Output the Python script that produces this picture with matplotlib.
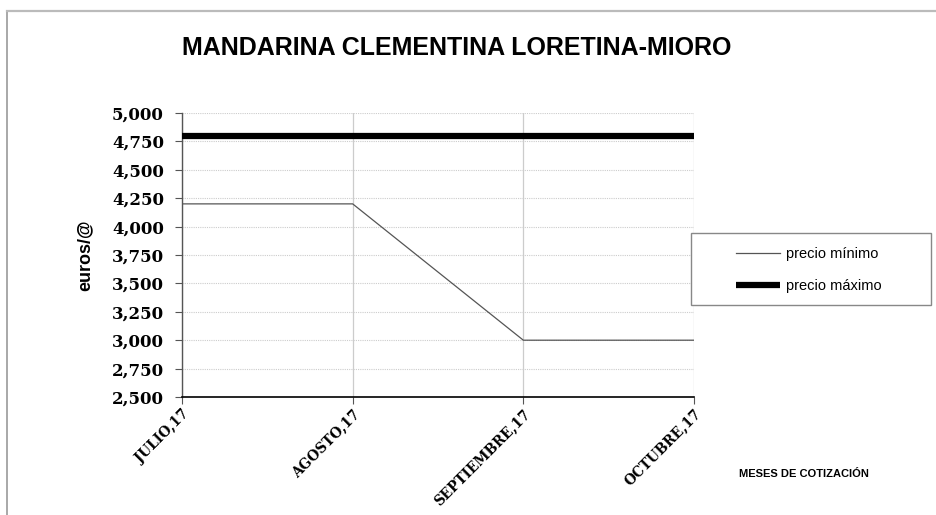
import matplotlib
matplotlib.use("Agg")
import matplotlib.pyplot as plt
from matplotlib.lines import Line2D
from matplotlib.patches import Rectangle
from matplotlib.ticker import FuncFormatter

categories = ["JULIO,17", "AGOSTO,17", "SEPTIEMBRE,17", "OCTUBRE,17"]
precio_minimo = [4.2, 4.2, 3.0, 3.0]
precio_maximo = [4.8, 4.8, 4.8, 4.8]
y_ticks = [2.5, 2.75, 3.0, 3.25, 3.5, 3.75, 4.0, 4.25, 4.5, 4.75, 5.0]

W, H = 936, 515
fig = plt.figure(figsize=(W / 100, H / 100), dpi=100)
fig.patch.set_facecolor("white")

# outer frame (top and left visible)
fig.add_artist(Line2D([7 / W, 7 / W], [0, 1 - 10.5 / H], color="#999999", lw=1.2, transform=fig.transFigure))
fig.add_artist(Line2D([7 / W, 1], [1 - 10.5 / H, 1 - 10.5 / H], color="#bbbbbb", lw=1.6, transform=fig.transFigure))

left, right, top, bottom = 182, 694, 113, 397
ax = fig.add_axes([left / W, 1 - bottom / H, (right - left) / W, (bottom - top) / H])

x = list(range(len(categories)))
ax.plot(x, precio_minimo, color="#555555", lw=0.9, label="precio mínimo", zorder=3)
ax.plot(x, precio_maximo, color="black", lw=4.5, label="precio máximo", zorder=3, solid_capstyle="butt")

ax.set_xlim(0, len(categories) - 1)
ax.set_ylim(2.5, 5.0)
ax.set_yticks(y_ticks)
ax.yaxis.set_major_formatter(FuncFormatter(lambda v, p: f"{v:.3f}".replace(".", ",")))
ax.set_xticks(x)
ax.set_xticklabels(categories, rotation=45, ha="right", va="top", rotation_mode="anchor",
                   fontfamily="DejaVu Serif", fontweight="bold", fontsize=9.8)
for lab in ax.get_yticklabels():
    lab.set_fontfamily("DejaVu Serif")
    lab.set_fontweight("bold")
    lab.set_fontsize(12)

ax.yaxis.grid(True, color="#cccccc", lw=0.8, linestyle=(0, (1, 1)))
ax.xaxis.grid(True, color="#cccccc", lw=0.9, linestyle="-")
ax.set_axisbelow(True)

for s in ["top", "right"]:
    ax.spines[s].set_visible(False)
ax.spines["left"].set_color("#555555")
ax.spines["left"].set_linewidth(1.0)
ax.spines["bottom"].set_color("black")
ax.spines["bottom"].set_linewidth(1.2)
ax.tick_params(axis="y", direction="out", length=5, color="#555555", pad=8)
ax.tick_params(axis="x", direction="out", length=5, color="#555555", pad=2)

ax.set_ylabel("euros/@", fontfamily="Liberation Sans", fontweight="bold", fontsize=13, labelpad=0)
ax.yaxis.set_label_coords((94 - left) / (right - left), 0.5)

fig.text(457 / W, 1 - 48 / H, "MANDARINA CLEMENTINA LORETINA-MIORO", ha="center", va="center",
         fontfamily="Liberation Sans", fontweight="bold", fontsize=18)
fig.text(804 / W, 1 - 474 / H, "MESES DE COTIZACIÓN", ha="center", va="center",
         fontfamily="Liberation Sans", fontweight="bold", fontsize=8)

# legend frame drawn explicitly, legend entries without frame
fig.add_artist(Rectangle((691 / W, 1 - 305 / H), (931 - 691) / W, (305 - 233) / H,
                         transform=fig.transFigure, facecolor="white", edgecolor="#888888", lw=1.0, zorder=4))
leg = fig.legend(loc="center", bbox_to_anchor=(809 / W, 1 - 270 / H), frameon=False,
                 prop={"family": "Liberation Sans", "size": 10.5}, handlelength=3.0, handletextpad=0.4,
                 labelspacing=1.25, borderpad=0, borderaxespad=0)
leg.set_zorder(5)

fig.savefig("out.png", dpi=100, facecolor="white")
